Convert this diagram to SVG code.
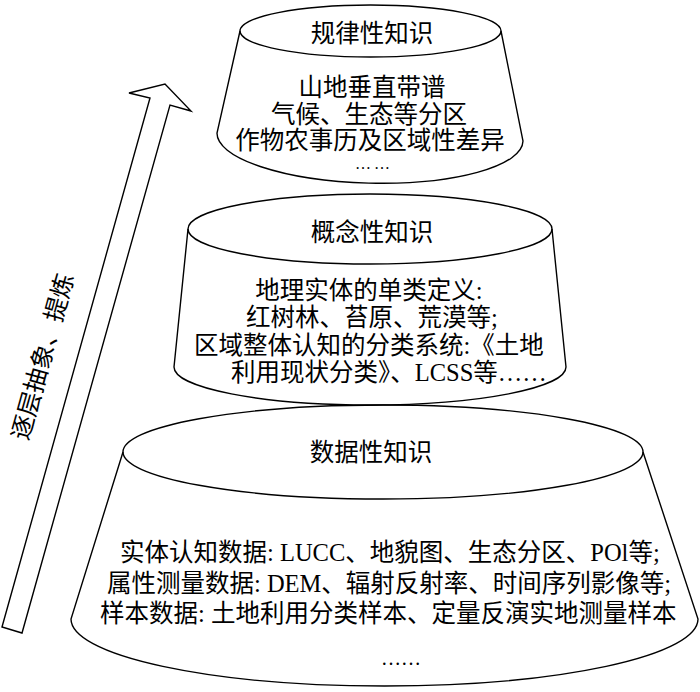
<svg xmlns="http://www.w3.org/2000/svg" width="700" height="692" viewBox="0 0 700 692">
<style>
.shape{fill:none;stroke:#000;stroke-width:1.4;stroke-linejoin:miter}
.t{font-family:"Liberation Serif","Noto Sans CJK SC",serif;font-size:24.5px;fill:#000}
.m{text-anchor:middle}
.dots{font-size:20px}
.sdots{font-size:16px;letter-spacing:3px}
</style>
<rect x="0" y="0" width="700" height="692" fill="#fff"/>
<g id="connectors">
<polygon class="shape" points="2,627 150,98 129,93 165,84 191,111 170,105 22,633"/>
<text class="t m" transform="translate(51,359) rotate(-74.4)">逐层抽象、提炼</text>
</g>
<g id="node-bottom">
<ellipse class="shape" cx="383" cy="452" rx="260" ry="47"/>
<path class="shape" d="M123,452 L71,619 A313.5,67 0 0,0 698,619 L643,452"/>
<text class="t m" x="371" y="461">数据性知识</text>
<text class="t" x="120" y="561">实体认知数据: LUCC、地貌图、生态分区、POl等;</text>
<text class="t" x="107" y="592">属性测量数据: DEM、辐射反射率、时间序列影像等;</text>
<text class="t" x="100" y="622">样本数据: 土地利用分类样本、定量反演实地测量样本</text>
<text class="t m dots" x="401" y="665">……</text>
</g>
<g id="node-middle">
<ellipse class="shape" cx="370" cy="229" rx="182" ry="35"/>
<path class="shape" d="M188,229 L174,367 A196,38 0 0,0 566,367 L552,229"/>
<text class="t m" x="372" y="241">概念性知识</text>
<text class="t m" x="369" y="299">地理实体的单类定义:</text>
<text class="t m" x="372" y="326">红树林、苔原、荒漠等;</text>
<text class="t" x="194" y="354">区域整体认知的分类系统:《土地</text>
<text class="t" x="231" y="381">利用现状分类》、LCSS等……</text>
</g>
<g id="node-top">
<ellipse class="shape" cx="370.5" cy="31" rx="130.5" ry="26"/>
<path class="shape" d="M240,31 L217,133 A152.6,46 1.5 0,0 523,141 L501,31"/>
<text class="t m" x="372" y="42">规律性知识</text>
<text class="t m" x="372" y="96">山地垂直带谱</text>
<text class="t m" x="369" y="123">气候、生态等分区</text>
<text class="t m" x="370" y="149">作物农事历及区域性差异</text>
<text class="t m sdots" x="374" y="169">……</text>
</g>
</svg>
